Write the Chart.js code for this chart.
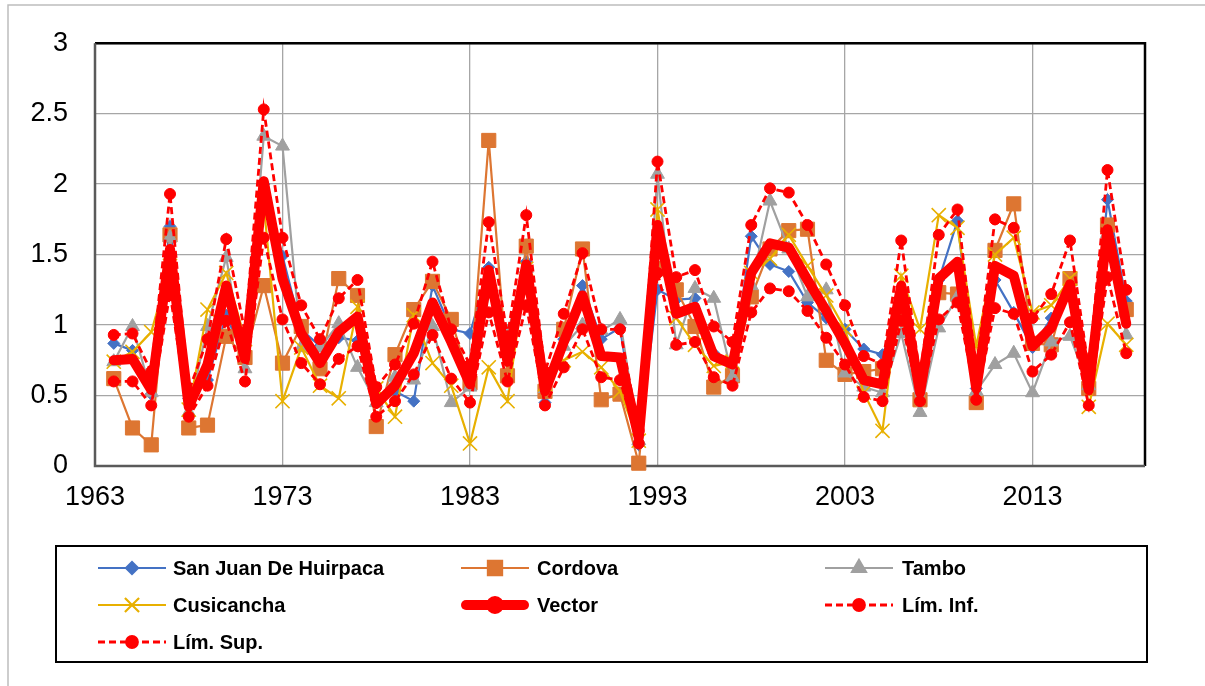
<!DOCTYPE html>
<html>
<head>
<meta charset="utf-8">
<script src="https://cdn.jsdelivr.net/npm/chart.js@4.4.1/dist/chart.umd.min.js"></script>
<style>
html,body{margin:0;padding:0;background:#fff;}
canvas{display:block;}
</style>
</head>
<body>
<canvas id="c" width="1205" height="686"></canvas>
<script>
const years = [1964,1965,1966,1967,1968,1969,1970,1971,1972,1973,
  1974,1975,1976,1977,1978,1979,1980,1981,1982,1983,
  1984,1985,1986,1987,1988,1989,1990,1991,1992,1993,
  1994,1995,1996,1997,1998,1999,2000,2001,2002,2003,
  2004,2005,2006,2007,2008,2009,2010,2011,2012,2013,
  2014,2015,2016,2017,2018];
const sanJuan = [0.87,0.82,0.51,1.70,0.48,0.61,1.07,0.75,2.00,1.49,
  0.97,0.85,0.91,0.89,0.47,0.53,0.46,1.28,0.97,0.94,
  1.41,0.85,1.45,0.45,0.90,1.28,0.90,0.98,0.15,1.25,
  1.18,1.19,0.80,0.70,1.63,1.43,1.38,1.16,1.05,0.97,
  0.83,0.79,1.10,0.50,1.32,1.74,0.55,1.32,1.09,0.84,
  1.05,1.30,0.55,1.89,1.17];
const cordova = [0.62,0.27,0.15,1.64,0.27,0.29,0.92,0.77,1.28,0.73,
  0.99,0.69,1.33,1.21,0.28,0.79,1.11,1.31,1.04,0.59,
  2.31,0.64,1.56,0.53,0.97,1.54,0.47,0.51,0.02,1.40,
  1.25,0.99,0.56,0.64,1.20,1.54,1.67,1.68,0.75,0.65,
  0.67,0.69,1.05,0.47,1.23,1.22,0.45,1.53,1.86,0.87,
  0.86,1.33,0.55,1.71,1.11];
const tambo = [0.74,0.99,0.52,1.62,0.38,0.99,1.48,0.69,2.34,2.27,
  0.84,0.84,1.01,0.70,0.45,0.63,0.61,0.99,0.45,0.56,
  1.22,0.95,1.40,0.55,0.85,1.00,0.96,1.04,0.18,2.07,
  0.86,1.26,1.19,0.63,1.28,1.88,1.54,1.20,1.25,0.66,
  0.56,0.52,0.94,0.38,0.98,1.20,0.53,0.72,0.80,0.52,
  0.88,0.92,0.57,1.65,0.93];
const cusicancha = [0.74,0.81,0.95,1.42,0.40,1.11,1.37,0.90,1.86,0.46,
  0.84,0.57,0.48,1.13,0.55,0.35,1.07,0.73,0.57,0.16,
  0.70,0.46,1.40,0.58,0.75,0.81,0.70,0.53,0.18,1.82,
  1.05,0.86,0.71,0.74,1.37,1.47,1.64,1.42,1.21,0.97,
  0.52,0.25,1.35,0.97,1.78,1.69,0.85,1.50,1.62,1.09,
  1.14,1.33,0.42,1.01,0.86];
const vector = [0.75,0.76,0.54,1.54,0.42,0.72,1.28,0.76,2.02,1.33,
  0.94,0.73,0.95,1.06,0.44,0.57,0.80,1.16,0.88,0.58,
  1.39,0.74,1.43,0.53,0.88,1.21,0.78,0.77,0.20,1.71,
  1.08,1.13,0.78,0.72,1.37,1.58,1.55,1.32,1.10,0.87,
  0.61,0.58,1.28,0.52,1.33,1.45,0.55,1.42,1.35,0.85,
  0.98,1.29,0.54,1.68,1.01];
const limInf = [0.60,0.60,0.43,1.23,0.35,0.57,1.03,0.60,1.62,1.04,
  0.73,0.58,0.76,0.85,0.35,0.46,0.65,0.93,0.62,0.45,
  1.09,0.60,1.14,0.43,0.70,0.97,0.63,0.61,0.16,1.37,
  0.86,0.88,0.63,0.57,1.09,1.26,1.24,1.10,0.91,0.72,
  0.49,0.46,1.03,0.46,1.04,1.16,0.47,1.12,1.08,0.67,
  0.79,1.02,0.43,1.34,0.80];
const limSup = [0.93,0.94,0.67,1.93,0.53,0.90,1.61,0.95,2.53,1.62,
  1.14,0.90,1.19,1.32,0.56,0.72,1.01,1.45,0.97,0.72,
  1.73,0.92,1.78,0.67,1.08,1.51,0.97,0.97,0.25,2.16,
  1.34,1.39,0.99,0.88,1.71,1.97,1.94,1.71,1.43,1.14,
  0.78,0.72,1.60,0.64,1.64,1.82,0.68,1.75,1.69,1.05,
  1.22,1.60,0.68,2.10,1.25];
const xTicks = [1963,1973,1983,1993,2003,2013];
const yTicks = [0,0.5,1,1.5,2,2.5,3];

const pts = arr => years.map((y,i)=>({x:y,y:arr[i]}));
const FONT = "'Liberation Sans', Arial, sans-serif";
const C_BLUE='#4472C4', C_ORANGE='#DD7632', C_GRAY='#A0A0A0', C_GOLD='#E8B000', C_RED='#FF0000';

const datasets = [
  {label:'San Juan De Huirpaca', data:pts(sanJuan), borderColor:C_BLUE, backgroundColor:C_BLUE, borderWidth:2.2,
   pointStyle:'rectRot', pointRadius:6, pointBorderWidth:1, order:6},
  {label:'Cordova', data:pts(cordova), borderColor:C_ORANGE, backgroundColor:C_ORANGE, borderWidth:2.2,
   pointStyle:'rect', pointRadius:10, pointBorderWidth:1, order:5},
  {label:'Tambo', data:pts(tambo), borderColor:C_GRAY, backgroundColor:C_GRAY, borderWidth:2.2,
   pointStyle:'triangle', pointRadius:8, pointBorderWidth:1, order:4},
  {label:'Cusicancha', data:pts(cusicancha), borderColor:C_GOLD, backgroundColor:C_GOLD, borderWidth:2.2,
   pointStyle:'crossRot', pointRadius:10, pointBorderWidth:1.6, order:3},
  {label:'Vector', data:pts(vector), borderColor:C_RED, backgroundColor:C_RED, borderWidth:10,
   pointStyle:'circle', pointRadius:4, pointBorderWidth:1, order:2, borderJoinStyle:'round', borderCapStyle:'round'},
  {label:'Lím. Inf.', data:pts(limInf), borderColor:C_RED, backgroundColor:C_RED, borderWidth:2.8, borderDash:[7,4],
   pointStyle:'circle', pointRadius:5.5, pointBorderWidth:1, order:1},
  {label:'Lím. Sup.', data:pts(limSup), borderColor:C_RED, backgroundColor:C_RED, borderWidth:2.8, borderDash:[7,4],
   pointStyle:'circle', pointRadius:5.5, pointBorderWidth:1, order:0}
];
datasets.forEach(d=>{d.tension=0; d.clip=12; d.fill=false;});

const framePlugin = {
  id:'frame',
  beforeDraw(chart){
    const ctx = chart.ctx;
    ctx.save();
    ctx.fillStyle='#fff'; ctx.fillRect(0,0,chart.width,chart.height);
    ctx.strokeStyle='#BDBDBD'; ctx.lineWidth=1.5;
    ctx.beginPath(); ctx.moveTo(8,686); ctx.lineTo(8,5); ctx.lineTo(1205,5); ctx.stroke();
    ctx.restore();
  },
  beforeDatasetsDraw(chart){
    const {left,right,top,bottom} = chart.chartArea;
    const ctx = chart.ctx;
    ctx.save();
    ctx.lineWidth=2.5;
    ctx.strokeStyle='#000';
    ctx.beginPath(); ctx.moveTo(left,top); ctx.lineTo(right,top); ctx.lineTo(right,bottom); ctx.stroke();
    ctx.strokeStyle='#5a5a5a';
    ctx.beginPath(); ctx.moveTo(left,top); ctx.lineTo(left,bottom); ctx.lineTo(right,bottom); ctx.stroke();
    ctx.restore();
  }
};

const legendLayout = [
  {ds:0, lx:98, tx:173, y:568},
  {ds:1, lx:461, tx:537, y:568},
  {ds:2, lx:825, tx:902, y:568},
  {ds:3, lx:98, tx:173, y:605},
  {ds:4, lx:461, tx:537, y:605},
  {ds:5, lx:825, tx:902, y:605},
  {ds:6, lx:98, tx:173, y:642}
];
const legendPlugin = {
  id:'boxLegend',
  afterDraw(chart){
    const ctx = chart.ctx;
    ctx.save();
    ctx.strokeStyle='#000'; ctx.lineWidth=2;
    ctx.strokeRect(56,546,1091,116);
    ctx.font = "bold 20px " + FONT;
    ctx.textBaseline='middle';
    ctx.fillStyle='#000';
    legendLayout.forEach(it=>{
      const d = chart.data.datasets[it.ds];
      const x0 = it.lx, x1 = it.lx+68, cy = it.y;
      ctx.save();
      ctx.strokeStyle = d.borderColor;
      ctx.lineWidth = d.borderWidth;
      ctx.lineCap = d.borderCapStyle || 'butt';
      if (d.borderDash) ctx.setLineDash(d.borderDash);
      ctx.beginPath();
      const inset = d.borderCapStyle==='round' ? d.borderWidth/2 : 0;
      ctx.moveTo(x0+inset,cy); ctx.lineTo(x1-inset,cy); ctx.stroke();
      ctx.setLineDash([]);
      ctx.fillStyle = d.backgroundColor; ctx.strokeStyle = d.borderColor;
      Chart.helpers.drawPoint(ctx, {pointStyle:d.pointStyle, radius:d.pointRadius, borderWidth:d.pointBorderWidth, rotation:0}, (x0+x1)/2, cy);
      ctx.restore();
      ctx.fillStyle='#000';
      ctx.fillText(d.label, it.tx, cy+1);
    });
    ctx.restore();
  }
};

new Chart(document.getElementById('c').getContext('2d'), {
  type:'line',
  data:{datasets},
  options:{
    responsive:false, animation:false, devicePixelRatio:1,
    layout:{padding:{left:0, top:38, right:60, bottom:160}},
    plugins:{legend:{display:false}, tooltip:{enabled:false}},
    elements:{line:{tension:0}},
    scales:{
      x:{type:'linear', min:1963, max:2019,
        afterBuildTicks:s=>{ s.ticks = xTicks.map(v=>({value:v})); },
        afterFit:s=>{ s.height = 60; },
        grid:{color:'#A6A6A6', lineWidth:1.3, drawTicks:false},
        border:{display:false},
        ticks:{font:{family:FONT, size:27}, color:'#000', padding:15, maxRotation:0, autoSkip:false, callback:v=>String(v)}
      },
      y:{min:0, max:3,
        afterBuildTicks:s=>{ s.ticks = yTicks.map(v=>({value:v})); },
        afterFit:s=>{ s.width = 95; },
        grid:{color:'#A6A6A6', lineWidth:1.3, drawTicks:false},
        border:{display:false},
        ticks:{font:{family:FONT, size:27}, color:'#000', padding:27, callback:v=>String(v)}
      }
    }
  },
  plugins:[framePlugin, legendPlugin]
});
</script>
</body>
</html>
